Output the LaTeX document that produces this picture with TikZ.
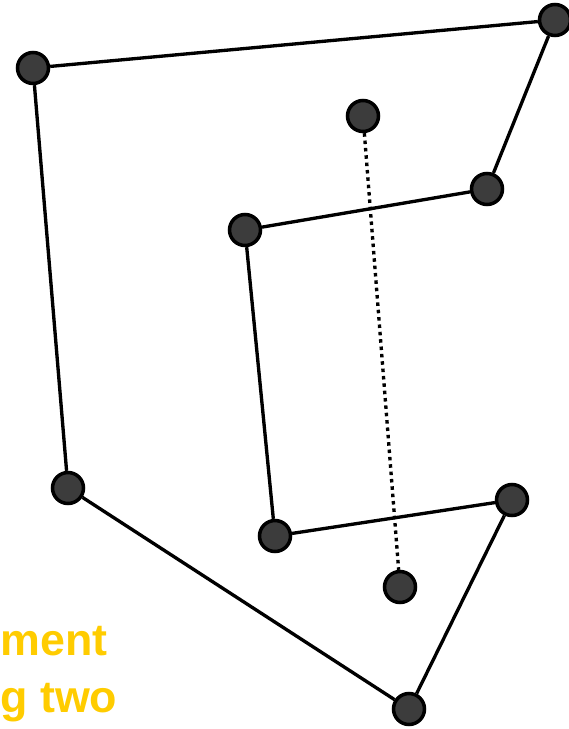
\documentclass[tikz,border=0pt]{standalone}
\usepackage{fontspec}
\setmainfont{Liberation Sans}
\usepackage{tikz}
\usetikzlibrary{positioning}
\definecolor{flabel}{HTML}{FFCC00}
\definecolor{fdot}{HTML}{3C3C3C}
\tikzset{
  vertex/.style = {draw, circle, fill=fdot, line width=2pt,
                   inner sep=0pt, minimum size=0.62cm},
  edge/.style   = {line width=1.9pt},
  chord/.style  = {line width=1.9pt, dash pattern=on 2pt off 2.2pt},
  note/.style   = {anchor=base west, inner sep=0pt, text=flabel,
                   font=\fontsize{25.5}{28}\selectfont\bfseries},
}

\begin{document}
\begin{tikzpicture}[x=0.02cm,y=-0.02cm]
\useasboundingbox (0,0) rectangle (568,729);
% outer polygon vertices
\node[vertex] (A) at (33,68)  {};
\node[vertex] (B) at (555,20) {};
\node[vertex] (D) at (487,189) {};
\node[vertex] (E) at (245,230) {};
\node[vertex] (H) at (275,536) {};
\node[vertex] (G) at (512,500) {};
\node[vertex] (J) at (409,709) {};
\node[vertex] (F) at (68,488) {};
% the two ends of the dotted segment
\node[vertex] (C) at (363,116) {};
\node[vertex] (I) at (400,587) {};
\draw[edge] (A) -- (B);
\draw[edge] (B) -- (D);
\draw[edge] (D) -- (E);
\draw[edge] (E) -- (H);
\draw[edge] (H) -- (G);
\draw[edge] (G) -- (J);
\draw[edge] (J) -- (F);
\draw[edge] (F) -- (A);
\draw[chord] (C) -- (I);
% cut-off caption at lower left
\node[note] (t1) at (0,655) {ment};
\node[note] (t2) at (0,712) {g two};
\end{tikzpicture}
\end{document}
